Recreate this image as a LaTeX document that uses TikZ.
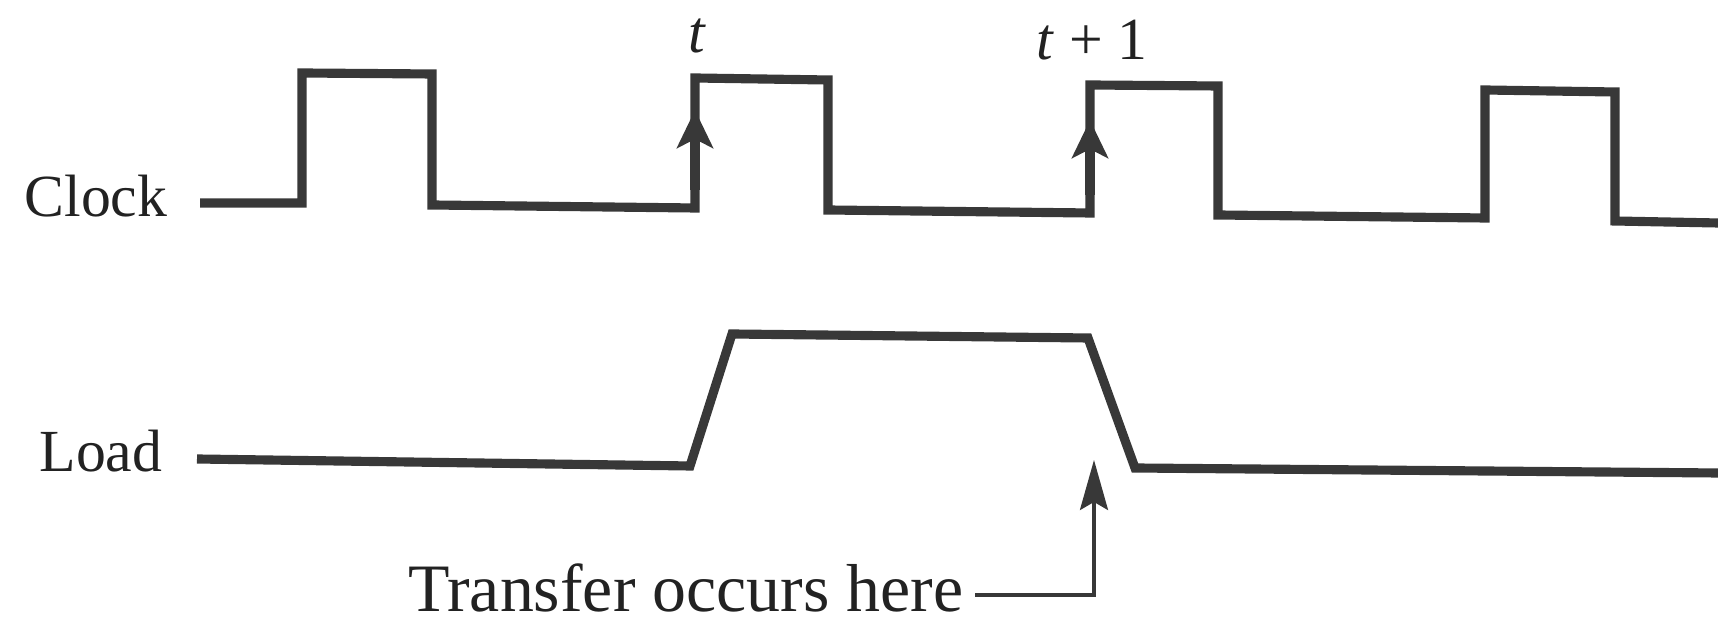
\documentclass[tikz,border=0pt]{standalone}
\usepackage{fontspec}
\setmainfont{Liberation Serif}
\usetikzlibrary{arrows.meta}
\definecolor{wave-gray}{HTML}{383838}
\definecolor{ink}{HTML}{222222}

\begin{document}
\begin{tikzpicture}[x=0.1mm, y=-0.1mm,
        every node/.style={font=\fontsize{17}{20}\selectfont, text=ink, inner sep=0pt},
        wave/.style={draw=wave-gray, line width=2.6pt, line join=miter},
        edgetip/.style={-{Stealth[length=3.8mm, width=3.6mm, inset=0.9mm]},
            draw=wave-gray, line width=2.6pt},
        pointer/.style={-{Stealth[length=5mm, width=2.8mm, inset=0.8mm]},
            draw=wave-gray, line width=0.9pt}]
      \useasboundingbox (0,0) rectangle (1718,624);
      % signal names
      \node[anchor=base east] (clk) at (168,217) {Clock};
      \node[anchor=base east] (ld) at (163,472) {Load};
      % clock
      \draw[wave] (clk.east |- 0,203) ++(32,0) -- (302,203) -- (302,73) -- (432,74)
            -- (432,205) -- (695,208) -- (695,78) -- (828,80) -- (828,210)
            -- (1090,213) -- (1090,85) -- (1218,86) -- (1218,215) -- (1485,218)
            -- (1485,90) -- (1615,92) -- (1615,221) -- (1718,223);
      \draw[edgetip] (695,190) -- (695,110);
      \draw[edgetip] (1090,195) -- (1090,120);
      \node[anchor=base] (tnow) at (697,53) {\textit{t}};
      \node[anchor=base] (tnext) at (1092,60) {\textit{t} + 1};
      % load
      \draw[wave] (ld.east |- 0,459) ++(34,0) -- (690,466) -- (732,334)
            -- (1088,338) -- (1135,468) -- (1718,473);
      % transfer point
      \node[anchor=base east, inner xsep=1.1mm, font=\fontsize{19.3}{22}\selectfont]
            (xfer) at (975,612) {Transfer occurs here};
      \coordinate (xbend) at (1094,595);
      \coordinate (xtip) at (1094,460);
      \draw[pointer] (xfer.east |- xbend) -- (xbend) -- (xtip);
    \end{tikzpicture}
\end{document}
